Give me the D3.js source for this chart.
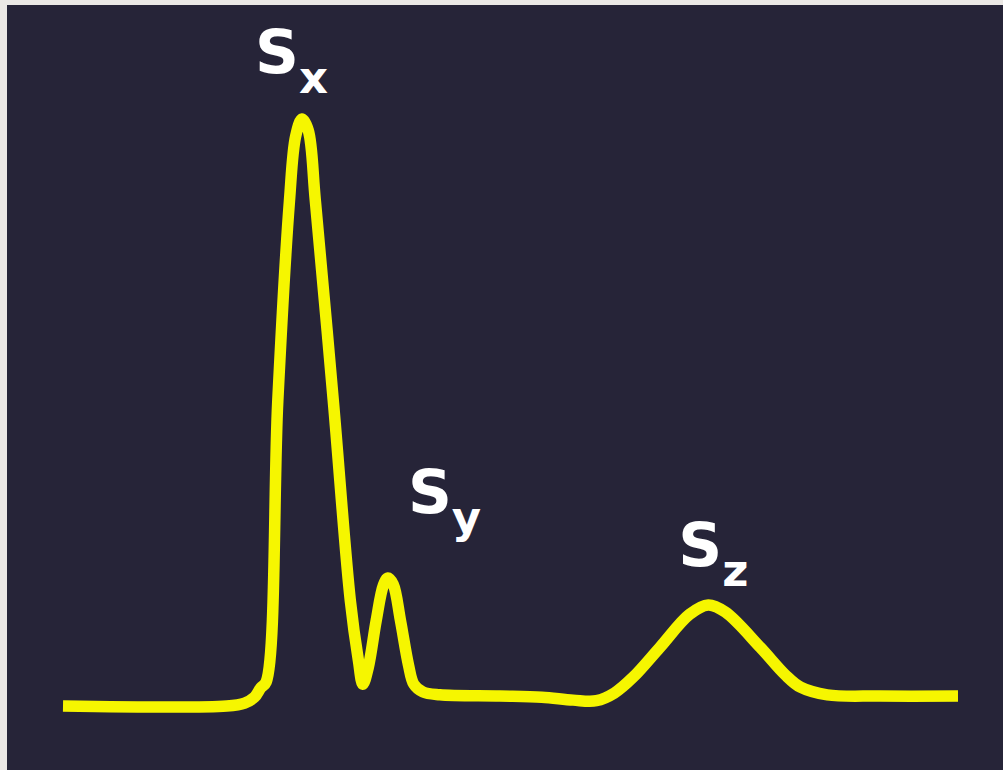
<!DOCTYPE html>
<html>
<head>
<meta charset="utf-8">
<script src="https://cdn.jsdelivr.net/npm/d3@7/dist/d3.min.js"></script>
<style>
  html, body { margin: 0; padding: 0; background: #ebe8e5; }
  svg { display: block; }
</style>
</head>
<body>
<script>
// Time axis (arbitrary units) and signal amplitude (arbitrary units)
const time = [0, 18.3, 20.3, 21.4, 22.1, 22.7, 24.0, 25.3, 26.0, 26.7, 27.4, 28.2, 30.2, 32.1, 33.0, 33.5,
  34.1, 35.0, 35.8, 36.3, 36.9, 37.7, 38.6, 39.2, 40.2, 42.1, 48.8, 53.5, 57.0, 59.6, 61.6, 63.7,
  66.7, 70.0, 72.1, 74.0, 77.9, 80.7, 82.4, 85.4, 91.3, 100];
const amplitude = [0, 0, 0.5, 1.5, 3.1, 4.1, 52.0, 86.0, 97.1, 100, 98.1, 86.0, 52.0, 18.0, 7.8, 3.7,
  6.5, 14.6, 20.6, 21.8, 20.7, 14.6, 7.0, 3.7, 2.4, 1.9, 1.7, 1.5, 1.0, 0.9, 2.2, 4.9,
  10.0, 15.6, 17.2, 16.0, 10.0, 5.3, 3.2, 1.9, 1.7, 1.7];
// Peak labels: main letter, subscript, and index of the peak they annotate
const labelMain = ["S", "S", "S"];
const labelSub = ["x", "y", "z"];
const labelPeak = [9, 19, 34];

const W = 1003, H = 770;
const svg = d3.select("body").append("svg").attr("width", W).attr("height", H);

svg.append("rect").attr("x", 7).attr("y", 5).attr("width", W - 7).attr("height", H - 5)
  .attr("fill", "#262438");

const x = d3.scaleLinear().domain([0, 100]).range([63, 958]);
const y = d3.scaleLinear().domain([0, 100]).range([706, 119]);

const pts = time.map((t, i) => [t, amplitude[i]]);
const line = d3.line().x(d => x(d[0])).y(d => y(d[1])).curve(d3.curveCatmullRom.alpha(0.5));

svg.append("path").datum(pts).attr("d", line)
  .attr("fill", "none").attr("stroke", "#f6f600").attr("stroke-width", 11.5)
  .attr("stroke-linejoin", "round").attr("stroke-linecap", "butt");

// label offsets relative to peak (pixels)
const offsets = [[-47, -46], [20, -65], [-30, -39]];
labelPeak.forEach((pi, i) => {
  const px = x(time[pi]) + offsets[i][0];
  const py = y(amplitude[pi]) + offsets[i][1];
  const t = svg.append("text").attr("x", px).attr("y", py)
    .attr("font-family", "'DejaVu Sans', Verdana, sans-serif")
    .attr("font-weight", "bold").attr("fill", "#ffffff")
    .attr("font-size", 61);
  t.append("tspan").text(labelMain[i]);
  t.append("tspan").attr("font-size", 45).attr("dy", 20).text(labelSub[i]);
});
</script>
</body>
</html>
